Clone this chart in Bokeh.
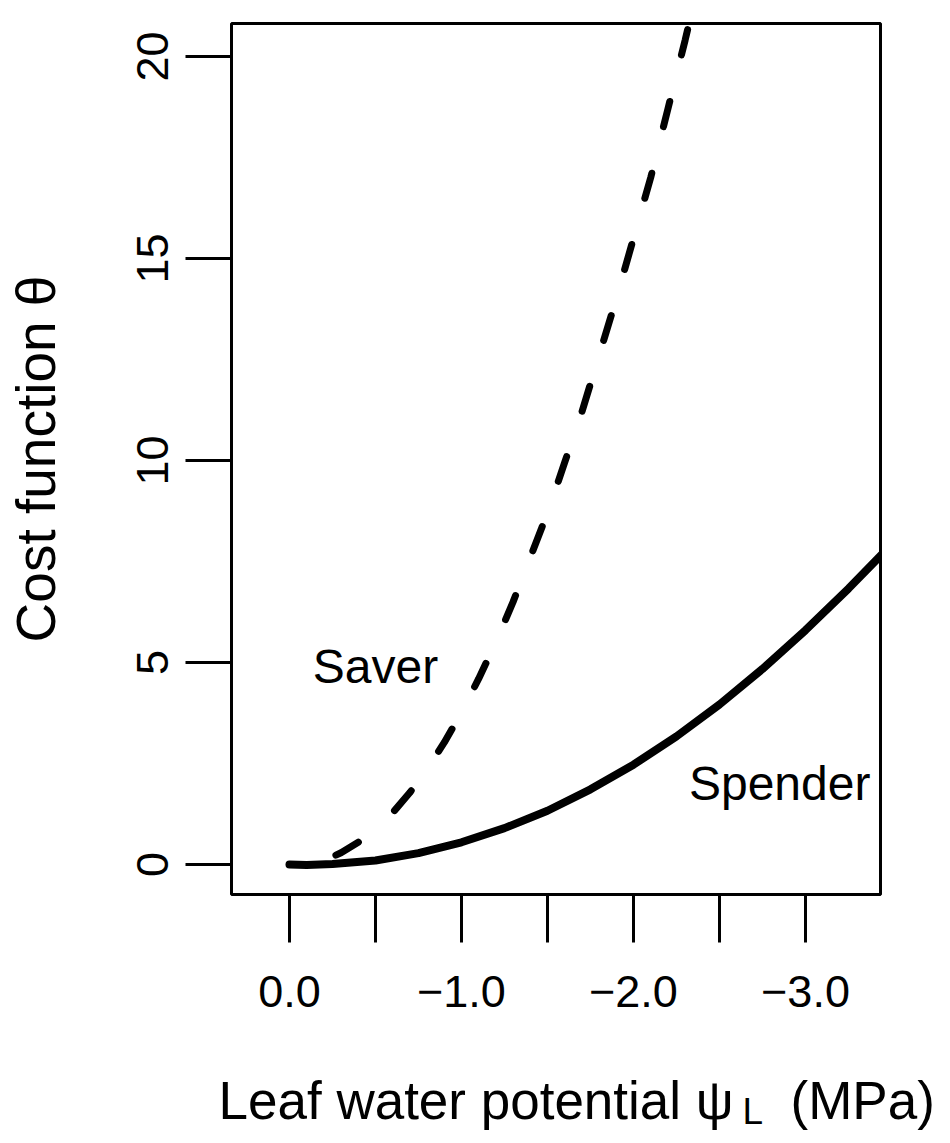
from bokeh.plotting import figure
from bokeh.models import FixedTicker, Range1d
from bokeh.layouts import column
from bokeh.core.properties import value
from bokeh.embed import file_html
from bokeh.resources import INLINE

# ---- data ----
spender_x = [0.0, -0.1, -0.25, -0.5, -0.75, -1.0, -1.25, -1.5, -1.75, -2.0,
             -2.25, -2.5, -2.75, -3.0, -3.25, -3.45]
spender_y = [0.0, -0.01, 0.01, 0.10, 0.28, 0.55, 0.90, 1.33, 1.86, 2.47,
             3.17, 3.96, 4.84, 5.80, 6.83, 7.70]

saver_x = [-0.27, -0.3, -0.4, -0.5, -0.6, -0.7, -0.8, -0.9, -1.0, -1.1, -1.2,
           -1.3, -1.4, -1.5, -1.6, -1.7, -1.8, -1.9, -2.0, -2.1, -2.2, -2.3, -2.35]
saver_y = [0.23, 0.29, 0.55, 0.89, 1.28, 1.78, 2.36, 3.02, 3.76, 4.60, 5.50,
           6.50, 7.60, 8.70, 9.95, 11.2, 12.6, 14.0, 15.5, 17.0, 18.7, 20.4, 21.3]

curve_names = ["Saver", "Spender"]
name_x = [-0.5, -2.85]
name_y = [4.9, 2.0]

x_ticks = [0.0, -0.5, -1.0, -1.5, -2.0, -2.5, -3.0]
x_tick_labels = ["0.0", "", "\u22121.0", "", "\u22122.0", "", "\u22123.0"]
y_ticks = [0, 5, 10, 15, 20]
y_tick_labels = ["0", "5", "10", "15", "20"]

x_title_main = ["Leaf water potential \u03c8", "(MPa)"]
x_title_sub = ["L"]
y_title = "Cost function \u03b8"

FONT = "Liberation Sans"
W, H1, H2 = 942, 1040, 95

p = figure(width=W, height=H1, output_backend="svg", toolbar_location=None,
           title=None,
           x_range=Range1d(0.337, -3.436), y_range=Range1d(-0.743, 20.816),
           min_border_left=231, min_border_right=W - 880,
           min_border_top=23, min_border_bottom=H1 - 894)
p.grid.visible = False
p.background_fill_color = "white"
p.border_fill_color = "white"
p.outline_line_color = "black"
p.outline_line_width = 3

xa = p.xaxis[0]
ya = p.yaxis[0]
xa.ticker = FixedTicker(ticks=x_ticks)
xa.major_label_overrides = {t: l for t, l in zip(x_ticks, x_tick_labels)}
ya.ticker = FixedTicker(ticks=y_ticks)
ya.major_label_overrides = {t: l for t, l in zip(y_ticks, y_tick_labels)}

for ax in (xa, ya):
    ax.axis_line_color = None
    ax.major_tick_in = 0
    ax.major_tick_line_width = 3
    ax.major_tick_line_color = "black"
    ax.minor_tick_line_color = None
    ax.major_label_text_font = FONT
    ax.major_label_text_font_size = "45px"
    ax.major_label_text_color = "black"

xa.major_tick_out = 48
xa.major_label_standoff = 33
ya.major_tick_out = 46
ya.major_label_standoff = 17
ya.major_label_orientation = "vertical"

ya.axis_label = y_title
ya.axis_label_text_font = FONT
ya.axis_label_text_font_size = "55px"
ya.axis_label_text_font_style = "normal"
ya.axis_label_text_color = "black"
ya.axis_label_standoff = 68

p.line(spender_x, spender_y, line_color="black", line_width=8, line_cap="round")
p.line(saver_x, saver_y, line_color="black", line_width=7, line_cap="round",
       line_dash="26 48")

p.text(x=name_x, y=name_y, text=curve_names, text_font=value(FONT),
       text_font_size="48px", text_align="center", text_baseline="middle",
       text_color="black")

# strip below the chart holding the x-axis title (with subscript L)
s = figure(width=W, height=H2, output_backend="svg", toolbar_location=None,
           title=None, x_axis_location=None, y_axis_location=None,
           x_range=Range1d(0, W), y_range=Range1d(0, H2),
           min_border=0, outline_line_color=None)
s.grid.visible = False
s.background_fill_color = "white"
s.border_fill_color = "white"
s.text(x=[218, 790], y=[35, 35], text=x_title_main, text_font=value(FONT),
       text_font_size="53px", text_align="left", text_baseline="alphabetic",
       text_color="black")
s.text(x=[742], y=[24], text=x_title_sub, text_font=value(FONT),
       text_font_size="37px", text_align="left", text_baseline="alphabetic",
       text_color="black")

for fig in (p, s):
    try:
        fig.frame_align = False
    except AttributeError:
        pass

layout = column(p, s, spacing=0)
open("out.html", "w").write(file_html(layout, INLINE))
